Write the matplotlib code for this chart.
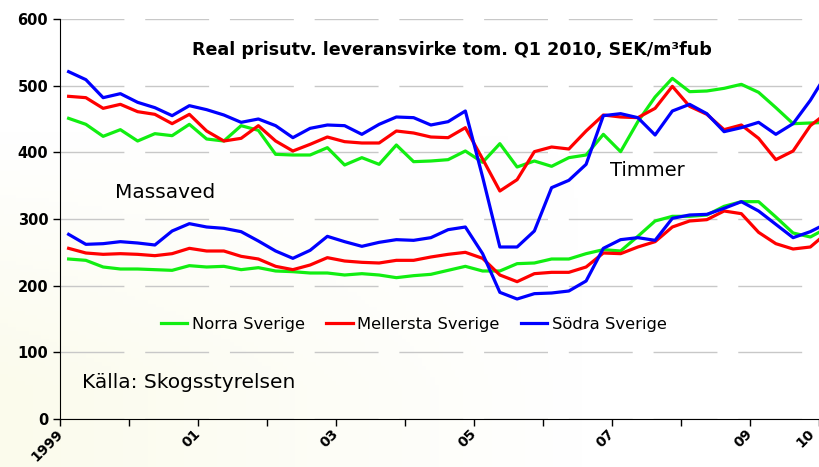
import numpy as np
import matplotlib.pyplot as plt
from matplotlib.colors import LinearSegmentedColormap

# kvartalsdata 1999 Q1 - 2010 Q1, SEK/m3fub
timmer_norra = [451, 442, 424, 434, 417, 428, 425, 442, 420, 417,
                440, 433, 397, 396, 396, 407, 381, 392, 382, 411,
                386, 387, 389, 402, 385, 413, 378, 387, 379, 392,
                396, 427, 401, 446, 483, 511, 491, 492, 496, 502,
                490, 467, 443, 444, 445]
timmer_mellersta = [484, 482, 466, 472, 461, 457, 443, 457, 432, 417,
                    421, 440, 417, 402, 412, 423, 416, 414, 414, 432,
                    429, 423, 422, 437, 390, 342, 359, 401, 408, 405,
                    432, 456, 453, 452, 466, 499, 469, 457, 434, 441,
                    421, 389, 402, 440, 460]
timmer_sodra = [521, 509, 482, 488, 475, 467, 455, 470, 464, 456,
                445, 450, 440, 422, 436, 441, 440, 427, 442, 453,
                452, 441, 446, 462, 363, 258, 258, 282, 347, 358,
                382, 455, 458, 452, 426, 462, 472, 458, 431, 437,
                445, 427, 443, 478, 520]

massa_norra = [240, 238, 228, 225, 225, 224, 223, 230, 228, 229,
               224, 227, 222, 221, 219, 219, 216, 218, 216, 212,
               215, 217, 223, 229, 222, 222, 233, 234, 240, 240,
               248, 254, 252, 274, 297, 304, 304, 306, 319, 326,
               326, 303, 279, 273, 287]
massa_mellersta = [256, 249, 247, 248, 247, 245, 248, 256, 252, 252,
                   244, 240, 229, 224, 231, 242, 237, 235, 234, 238,
                   238, 243, 247, 250, 241, 216, 206, 218, 220, 220,
                   228, 249, 248, 258, 266, 288, 297, 299, 312, 308,
                   280, 263, 255, 258, 280]
massa_sodra = [277, 262, 263, 266, 264, 261, 282, 293, 288, 286,
               281, 267, 252, 241, 253, 274, 266, 259, 265, 269,
               268, 272, 284, 288, 248, 190, 180, 188, 189, 192,
               207, 256, 269, 272, 268, 301, 306, 307, 316, 326,
               312, 292, 272, 281, 294]

regioner = ['Norra Sverige', 'Mellersta Sverige', 'Södra Sverige']
farger = ['#11ee11', '#ff0000', '#0000ff']
ar_etiketter = ['1999', '01', '03', '05', '07', '09', '10']
ar_positioner = [0, 8, 16, 24, 32, 40, 44]

x = np.arange(len(timmer_norra)) + 0.5

fig = plt.figure(figsize=(8.2, 4.67), dpi=100)

# svag gulaktig bakgrund nere till vänster
bg = fig.add_axes([0, 0, 1, 1], zorder=-1)
gx, gy = np.meshgrid(np.linspace(0, 1, 200), np.linspace(0, 1, 120))
grad = np.clip(1.0 - gx * 1.4, 0, 1) * np.clip(gy * 1.8 - 0.5, 0, 1)
bg.imshow(grad, cmap=LinearSegmentedColormap.from_list('bg', ['#ffffff', '#fbfbec']),
          extent=[0, 1, 0, 1], aspect='auto', origin='upper')
bg.axis('off')

ax = fig.add_axes([60 / 820, 48 / 467, 760 / 820, 400 / 467])
ax.patch.set_alpha(0)

serier = [(timmer_norra, massa_norra), (timmer_mellersta, massa_mellersta),
          (timmer_sodra, massa_sodra)]
for (tim, mas), namn, c in zip(serier, regioner, farger):
    ax.plot(x, tim, color=c, lw=2.3, label=namn)
    ax.plot(x, mas, color=c, lw=2.3)

ax.set_xlim(0, 44.06)
ax.set_ylim(0, 600)
ax.set_yticks(range(0, 601, 100))
ax.set_xticks(range(0, 45, 4))
ax.set_xticklabels([''] * 12)
for pos, lab in zip(ar_positioner, ar_etiketter):
    # sista etiketten (10) ligger vid kanten, flytta in den lite
    xp = min(pos - 0.25, 43.3)
    ax.text(xp, -12, lab, rotation=45, ha='right', va='top', fontsize=10,
            fontweight='bold', rotation_mode='anchor')

ax.tick_params(axis='both', direction='out', length=5, width=1, color='black')
ax.tick_params(axis='y', labelsize=10.5)
for lab in ax.get_yticklabels():
    lab.set_fontweight('bold')

ax.grid(axis='y', color='#c8c8c8', lw=1, linestyle=(0, (46, 15)))
ax.set_axisbelow(True)
for s in ['top', 'right']:
    ax.spines[s].set_visible(False)

ax.text(22.7, 553, 'Real prisutv. leveransvirke tom. Q1 2010, SEK/m³fub',
        ha='center', va='center', fontsize=12.6, fontweight='bold')
ax.text(3.2, 339, 'Massaved', ha='left', va='center', fontsize=14.5)
ax.text(31.9, 373, 'Timmer', ha='left', va='center', fontsize=14)
ax.text(1.3, 54, 'Källa: Skogsstyrelsen', ha='left', va='center', fontsize=14.5)

ax.legend(loc='center', bbox_to_anchor=(414 / 820, 1 - 324 / 467),
          bbox_transform=fig.transFigure, ncol=3, frameon=False,
          fontsize=11.8, handlelength=1.6, handletextpad=0.3, columnspacing=1.3)

fig.savefig('out.png', dpi=100)
